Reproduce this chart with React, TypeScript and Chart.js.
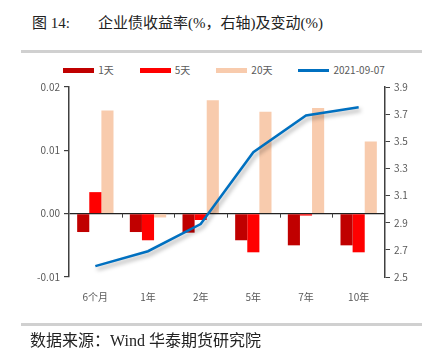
import React, { useEffect, useRef } from "react";
import { Chart, registerables } from "chart.js";

Chart.register(...registerables);

const categories = ["6个月", "1年", "2年", "5年", "7年", "10年"];
const change1d = [-0.0029, -0.0029, -0.003, -0.0042, -0.005, -0.005];
const change5d = [0.0034, -0.0042, -0.001, -0.0061, -0.0003, -0.0061];
const change20d = [0.0163, -0.0006, 0.0179, 0.0161, 0.0167, 0.0114];
const yield20210907 = [2.58, 2.69, 2.89, 3.42, 3.69, 3.75];
const leftTicks = [-0.01, 0.0, 0.01, 0.02];
const rightTicks = [2.5, 2.7, 2.9, 3.1, 3.3, 3.5, 3.7, 3.9];

const seriesInfo = [
  { label: "1天", color: "#C00000", kind: "bar" },
  { label: "5天", color: "#FF0000", kind: "bar" },
  { label: "20天", color: "#F8CBAD", kind: "bar" },
  { label: "2021-09-07", color: "#0070C0", kind: "line" },
];

const FONT = '"Noto Sans CJK SC", "DejaVu Sans", sans-serif';
const GRAY = "#595959";

const shadowPlugin = {
  id: "lineShadow",
  beforeDatasetDraw(chart: any, args: any) {
    if (chart.data.datasets[args.index].type === "line") {
      const ctx = chart.ctx;
      ctx.save();
      ctx.shadowColor = "rgba(0,0,0,0.35)";
      ctx.shadowBlur = 4;
      ctx.shadowOffsetX = 2;
      ctx.shadowOffsetY = 3;
    }
  },
  afterDatasetDraw(chart: any, args: any) {
    if (chart.data.datasets[args.index].type === "line") {
      chart.ctx.restore();
    }
  },
};

const zeroTicksPlugin = {
  id: "zeroTicks",
  afterDatasetsDraw(chart: any) {
    const x = chart.scales.x;
    const y = chart.scales.y;
    const y0 = y.getPixelForValue(0);
    const ctx = chart.ctx;
    const n = categories.length;
    ctx.save();
    ctx.strokeStyle = "#404040";
    ctx.lineWidth = 1;
    for (let i = 1; i < n; i++) {
      const px = Math.round(x.left + ((x.right - x.left) * i) / n) + 0.5;
      ctx.beginPath();
      ctx.moveTo(px, y0);
      ctx.lineTo(px, y0 + 4);
      ctx.stroke();
    }
    ctx.restore();
  },
};

export default function App() {
  const ref = useRef<HTMLCanvasElement | null>(null);

  useEffect(() => {
    if (!ref.current) return;
    const chart = new Chart(ref.current, {
      type: "bar",
      data: {
        labels: categories,
        datasets: [
          { type: "bar", label: seriesInfo[0].label, data: change1d, backgroundColor: seriesInfo[0].color, yAxisID: "y", order: 1 },
          { type: "bar", label: seriesInfo[1].label, data: change5d, backgroundColor: seriesInfo[1].color, yAxisID: "y", order: 1 },
          { type: "bar", label: seriesInfo[2].label, data: change20d, backgroundColor: seriesInfo[2].color, yAxisID: "y", order: 1 },
          {
            type: "line",
            label: seriesInfo[3].label,
            data: yield20210907,
            borderColor: seriesInfo[3].color,
            backgroundColor: seriesInfo[3].color,
            borderWidth: 2.5,
            pointRadius: 0,
            tension: 0,
            yAxisID: "y1",
            order: 0,
          },
        ],
      },
      options: {
        responsive: false,
        animation: false,
        layout: { padding: { top: 87, left: 0, right: 0, bottom: 0 } },
        datasets: {
          bar: { categoryPercentage: 0.69, barPercentage: 1.0 },
        },
        plugins: {
          tooltip: { enabled: false },
          legend: { display: false },
        },
        scales: {
          x: {
            grid: { display: false },
            border: { display: false },
            ticks: { font: { family: FONT, size: 10 }, color: GRAY, padding: 6 },
            afterFit: (s: any) => {
              s.height = 86;
            },
          },
          y: {
            position: "left",
            min: -0.01,
            max: 0.02,
            afterBuildTicks: (s: any) => {
              s.ticks = leftTicks.map((v) => ({ value: v }));
            },
            ticks: {
              font: { family: FONT, size: 10 },
              color: GRAY,
              padding: 4,
              callback: (v: any) => Number(v).toFixed(2),
            },
            grid: {
              drawOnChartArea: true,
              drawTicks: true,
              tickLength: 5,
              tickColor: "#404040",
              lineWidth: 1.2,
              color: (c: any) => (c.tick && Math.abs(c.tick.value) < 1e-9 ? "#222" : "rgba(0,0,0,0)"),
            },
            border: { display: true, color: "#404040", width: 1.5 },
            afterFit: (s: any) => {
              s.width = 69;
            },
          },
          y1: {
            position: "right",
            min: 2.5,
            max: 3.9,
            afterBuildTicks: (s: any) => {
              s.ticks = rightTicks.map((v) => ({ value: v }));
            },
            ticks: {
              font: { family: FONT, size: 10 },
              color: GRAY,
              padding: 4,
              callback: (v: any) => Number(v).toFixed(1),
            },
            grid: { drawOnChartArea: false, drawTicks: true, tickLength: 5, tickColor: "#404040" },
            border: { display: true, color: "#404040", width: 1.5 },
            afterFit: (s: any) => {
              s.width = 47;
            },
          },
        },
      },
      plugins: [shadowPlugin, zeroTicksPlugin],
    } as any);
    return () => chart.destroy();
  }, []);

  return (
    <div style={{ position: "absolute", left: 0, top: 0, width: 432, height: 363, background: "#fff", overflow: "hidden" }}>
      <div
        style={{
          position: "absolute",
          left: 32,
          top: 13,
          fontFamily: '"Liberation Serif", "DejaVu Serif", "Noto Sans CJK SC", serif',
          fontSize: 15,
          color: "#222",
          whiteSpace: "nowrap",
          lineHeight: "20px",
        }}
      >
        <span>图 14:</span>
        <span style={{ position: "absolute", left: 66 }}>企业债收益率(%，右轴)及变动(%)</span>
      </div>
      <div style={{ position: "absolute", left: 21, top: 50, width: 401, height: 3, background: "#d0d0d0" }} />
      <div
        style={{
          position: "absolute",
          left: 66,
          top: 62,
          width: 316,
          height: 16,
          display: "flex",
          justifyContent: "center",
          alignItems: "center",
          gap: 26,
          fontFamily: FONT,
          fontSize: 10,
          color: GRAY,
          whiteSpace: "nowrap",
        }}
      >
        {seriesInfo.map((s) => (
          <div key={s.label} style={{ display: "flex", alignItems: "center" }}>
            <div style={{ width: 31, height: s.kind === "line" ? 3 : 5, background: s.color, marginRight: 4 }} />
            <span style={{ lineHeight: "16px" }}>{s.label}</span>
          </div>
        ))}
      </div>
      <canvas ref={ref} width={432} height={363} style={{ position: "absolute", left: 0, top: 0, width: 432, height: 363 }} />
      <div style={{ position: "absolute", left: 21, top: 323, width: 401, height: 3, background: "#d0d0d0" }} />
      <div
        style={{
          position: "absolute",
          left: 30,
          top: 330,
          fontFamily: '"Liberation Serif", "DejaVu Serif", "Noto Sans CJK SC", serif',
          fontSize: 16,
          color: "#222",
          whiteSpace: "nowrap",
          lineHeight: "22px",
        }}
      >
        数据来源：Wind 华泰期货研究院
      </div>
    </div>
  );
}
